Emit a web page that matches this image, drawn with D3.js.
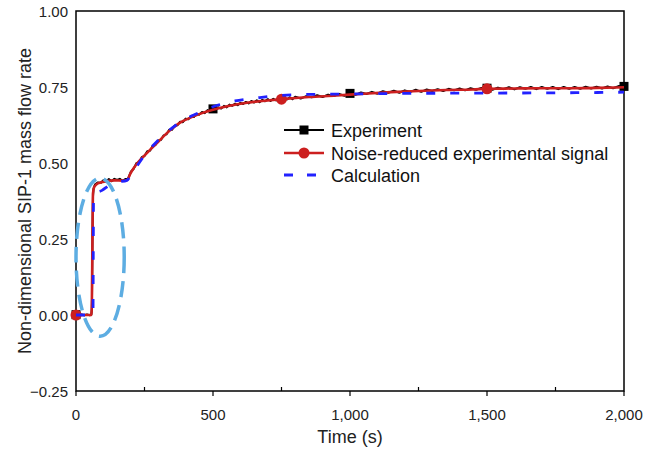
<!DOCTYPE html>
<html>
<head>
<meta charset="utf-8">
<script src="https://cdn.jsdelivr.net/npm/d3@7"></script>
<style>
	html, body { margin: 0; padding: 0; background: #fff; }
	svg { display: block; font-family: "Liberation Sans", Arial, sans-serif; }
</style>
</head>
<body>
<svg id="chart" width="661" height="451"></svg>
<script>
;(function() {
	"use strict";

	// noise-reduced experimental signal
	var redTime = [0, 56, 58, 60, 62, 66, 75, 90, 110, 140, 170, 186, 200, 220, 245, 270, 300, 340, 380, 420, 460, 500, 560, 630, 690, 750, 850, 950, 1050, 1150, 1250, 1350, 1450, 1500, 1600, 1700, 1800, 1900, 2000];
	var redValue = [0, 0, 0.05, 0.25, 0.40, 0.42, 0.43, 0.436, 0.44, 0.443, 0.442, 0.444, 0.468, 0.495, 0.52, 0.543, 0.57, 0.605, 0.633, 0.65, 0.664, 0.675, 0.688, 0.699, 0.705, 0.71, 0.717, 0.722, 0.728, 0.733, 0.737, 0.74, 0.742, 0.744, 0.745, 0.746, 0.746, 0.747, 0.749];

	// calculation
	var calcTime = [0, 62, 63, 64, 70, 95, 124, 150, 186, 200, 250, 300, 350, 400, 430, 500, 580, 660, 715, 810, 1000, 1200, 1500, 1800, 2000];
	var calcValue = [0, 0, 0.2, 0.39, 0.40, 0.41, 0.428, 0.437, 0.443, 0.46, 0.525, 0.575, 0.615, 0.645, 0.658, 0.685, 0.704, 0.714, 0.72, 0.725, 0.727, 0.729, 0.73, 0.731, 0.733];

	// raw experiment, sampled every 10 s then every 20 s
	var expHeadTime = [0, 10, 20, 30, 40, 50, 56, 58, 59, 60, 61, 62, 64, 67, 70];
	var expHeadValue = [0.001, -0.002, 0.002, -0.001, 0.002, -0.001, 0.001, 0.02, 0.12, 0.24, 0.33, 0.39, 0.415, 0.424, 0.43];
	var expMidValue = [
		0.436, 0.434, 0.443, 0.439, 0.447, 0.440, 0.448, 0.444, 0.448, 0.441, 0.447, 0.448,
		0.471, 0.480, 0.499, 0.502, 0.519, 0.523, 0.539, 0.540, 0.556, 0.559, 0.574, 0.576,
		0.591, 0.594, 0.609, 0.609, 0.623, 0.624, 0.636, 0.634, 0.646, 0.644, 0.654, 0.651,
		0.661, 0.659, 0.668, 0.664, 0.674, 0.670, 0.678, 0.674, 0.683, 0.679, 0.688, 0.683,
		0.692, 0.688, 0.695, 0.690, 0.698, 0.694, 0.701, 0.696, 0.704, 0.699, 0.706, 0.700,
		0.708, 0.703, 0.710, 0.704, 0.711, 0.706, 0.713, 0.707, 0.715, 0.709, 0.716, 0.710
	];
	var expTailValue = [
		0.718, 0.712, 0.720, 0.716, 0.723, 0.717, 0.725, 0.720, 0.727, 0.721,
		0.729, 0.724, 0.732, 0.727, 0.734, 0.728, 0.736, 0.731, 0.738, 0.731,
		0.739, 0.734, 0.741, 0.734, 0.742, 0.737, 0.743, 0.737, 0.744, 0.739,
		0.745, 0.739, 0.746, 0.741, 0.747, 0.746, 0.741, 0.748, 0.743, 0.749,
		0.742, 0.749, 0.744, 0.750, 0.743, 0.750, 0.744, 0.750, 0.743, 0.750,
		0.744, 0.750, 0.744, 0.751, 0.745, 0.751, 0.745, 0.752, 0.746, 0.753,
		0.752
	];
	var expTime = expHeadTime.concat(d3.range(80, 800, 10), d3.range(800, 2001, 20));
	var expValue = expHeadValue.concat(expMidValue, expTailValue);

	// marker positions
	var expMarkTime = [0, 500, 1000, 1500, 2000];
	var redMarkTime = [0, 750, 1500];

	// axes
	var xMajorTicks = [0, 500, 1000, 1500, 2000];
	var xMinorTicks = [250, 750, 1250, 1750];
	var yTicks = [-0.25, 0, 0.25, 0.5, 0.75, 1];

	var legendItems = ["Experiment", "Noise-reduced experimental signal", "Calculation"];

	var margin = { left: 76, right: 37, top: 11, bottom: 60 },
		width = 661, height = 451;

	var svg = d3.select("#chart");

	var x = d3.scaleLinear().domain([0, 2000]).range([margin.left, width - margin.right]),
		y = d3.scaleLinear().domain([-0.25, 1]).range([height - margin.bottom, margin.top]);

	var zip = function(ts, vs) { return ts.map(function(t, i) { return [t, vs[i]]; }); };
	var expData = zip(expTime, expValue),
		redData = zip(redTime, redValue),
		calcData = zip(calcTime, calcValue);

	var lookup = function(data, t) {
		var i = d3.bisector(function(d) { return d[0]; }).left(data, t);
		return data[Math.min(i, data.length - 1)];
	};

	var line = d3.line().x(function(d) { return x(d[0]); }).y(function(d) { return y(d[1]); });

	//frame
	svg.append("rect")
		.attr("x", x(0)).attr("y", y(1))
		.attr("width", x(2000) - x(0)).attr("height", y(-0.25) - y(1))
		.attr("fill", "none").attr("stroke", "#000").attr("stroke-width", 1.5);

	//x axis ticks: major outward, minor inward
	var xAxis = svg.append("g").attr("class", "x-axis");
	xAxis.selectAll("line.major").data(xMajorTicks).enter().append("line")
		.attr("x1", function(d) { return x(d); }).attr("x2", function(d) { return x(d); })
		.attr("y1", y(-0.25)).attr("y2", y(-0.25) + 5)
		.attr("stroke", "#000").attr("stroke-width", 1.2);
	xAxis.selectAll("line.minor").data(xMinorTicks).enter().append("line")
		.attr("x1", function(d) { return x(d); }).attr("x2", function(d) { return x(d); })
		.attr("y1", y(-0.25)).attr("y2", y(-0.25) - 4)
		.attr("stroke", "#000").attr("stroke-width", 1.2);
	xAxis.selectAll("text").data(xMajorTicks).enter().append("text")
		.attr("x", function(d) { return x(d); })
		.attr("y", 420)
		.attr("text-anchor", "middle")
		.attr("font-size", 15)
		.attr("fill", "#222")
		.text(d3.format(",d"));

	var yAxis = svg.append("g").attr("class", "y-axis");
	yAxis.selectAll("text").data(yTicks).enter().append("text")
		.attr("x", 68)
		.attr("y", function(d) { return y(d) + 5.5; })
		.attr("text-anchor", "end")
		.attr("font-size", 15)
		.attr("fill", "#222")
		.text(function(d) { return d < 0 ? "\u2212" + d3.format(".2f")(-d) : d3.format(".2f")(d); });

	svg.append("text")
		.attr("x", x(1000)).attr("y", 443)
		.attr("text-anchor", "middle").attr("font-size", 18).attr("fill", "#222")
		.text("Time (s)");

	svg.append("text")
		.attr("transform", "translate(31," + 201 + ") rotate(-90)")
		.attr("text-anchor", "middle").attr("font-size", 18).attr("fill", "#222")
		.text("Non-dimensional SIP-1 mass flow rate");

	//series
	svg.append("path").datum(expData)
		.attr("d", line).attr("fill", "none")
		.attr("stroke", "#000").attr("stroke-width", 2).attr("stroke-linejoin", "round");
	svg.selectAll("rect.exp-mark").data(expMarkTime).enter().append("rect")
		.attr("class", "exp-mark")
		.attr("x", function(t) { return x(t) - 4.5; })
		.attr("y", function(t) { return y(lookup(expData, t)[1]) - 4.5; })
		.attr("width", 9).attr("height", 9).attr("fill", "#000");

	svg.append("path").datum(redData)
		.attr("d", line.curve(d3.curveMonotoneX)).attr("fill", "none")
		.attr("stroke", "#cc1f1f").attr("stroke-width", 2.6).attr("stroke-linejoin", "round");
	svg.selectAll("circle.red-mark").data(redMarkTime).enter().append("circle")
		.attr("class", "red-mark")
		.attr("cx", function(t) { return x(t); })
		.attr("cy", function(t) { return y(lookup(redData, t)[1]); })
		.attr("r", 5.5).attr("fill", "#cc1f1f");

	svg.append("path").datum(calcData)
		.attr("d", line.curve(d3.curveMonotoneX)).attr("fill", "none")
		.attr("stroke", "#2222ff").attr("stroke-width", 2.8)
		.attr("stroke-dasharray", "9,15");

	//highlight ellipse round the step
	svg.append("ellipse")
		.attr("cx", x(88)).attr("cy", y(0.19))
		.attr("rx", x(176) - x(88)).attr("ry", y(0) - y(0.26))
		.attr("fill", "none").attr("stroke", "#5dade2").attr("stroke-width", 3.5)
		.attr("stroke-dasharray", "16,8");

	//legend
	var legend = svg.append("g").attr("class", "legend");
	var rowY = [130, 153, 175];
	legendItems.forEach(function(name, i) {
		var g = legend.append("g").attr("transform", "translate(0," + rowY[i] + ")");
		if (i === 2) {
			g.append("line").attr("x1", 284).attr("x2", 324).attr("y1", 0).attr("y2", 0)
				.attr("stroke", "#2222ff").attr("stroke-width", 2.8).attr("stroke-dasharray", "9,14");
		} else {
			var col = i === 0 ? "#000" : "#cc1f1f";
			g.append("line").attr("x1", 284).attr("x2", 324).attr("y1", 0).attr("y2", 0)
				.attr("stroke", col).attr("stroke-width", i === 0 ? 2 : 2.6);
			if (i === 0)
				g.append("rect").attr("x", 299.5).attr("y", -4.5).attr("width", 9).attr("height", 9).attr("fill", col);
			else
				g.append("circle").attr("cx", 304).attr("cy", 0).attr("r", 5.5).attr("fill", col);
		}
		g.append("text").attr("x", 331).attr("y", 6.5)
			.attr("font-size", 18).attr("fill", "#111").text(name);
	});
})();
</script>
</body>
</html>
